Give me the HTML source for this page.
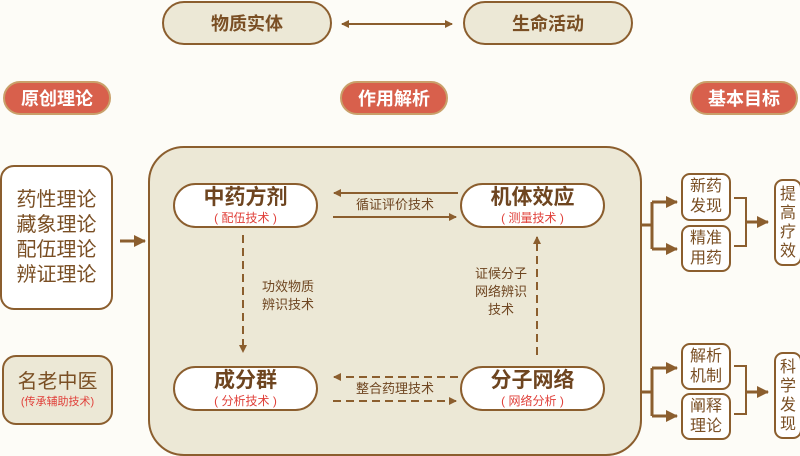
<!DOCTYPE html>
<html><head><meta charset="utf-8"><style>
*{margin:0;padding:0;box-sizing:border-box}
body{width:800px;height:453px;background:#fdfcf7;position:relative;overflow:hidden;font-family:"Liberation Sans","Noto Sans CJK SC",sans-serif;color:#7a4f24}
.a{position:absolute;display:flex;flex-direction:column;align-items:center;justify-content:center;text-align:center}
.bg{background:#ece8d6;border:2px solid #8b5e2e}
.w{background:#fff;border:2px solid #8b5e2e}
.red{background:#d8604c;border:2px solid #c9a06a;color:#fff;font-weight:bold;font-size:18px;border-radius:18px}
.t{font-weight:bold;font-size:21px;line-height:24px;color:#6e4520}
.s{font-size:12px;color:#e0403a;line-height:16px}
.lbl{position:absolute;font-size:13px;line-height:18px;color:#6e4520;text-align:center}
</style></head><body>
<div class="a bg" style="left:162px;top:1px;width:170px;height:44px;border-radius:22px;font-size:18px;font-weight:bold">物质实体</div>
<div class="a bg" style="left:463px;top:1px;width:170px;height:44px;border-radius:22px;font-size:18px;font-weight:bold">生命活动</div>
<div class="a red" style="left:3px;top:81px;width:108px;height:34px">原创理论</div>
<div class="a red" style="left:340px;top:81px;width:108px;height:34px">作用解析</div>
<div class="a red" style="left:690px;top:81px;width:108px;height:34px">基本目标</div>
<div class="a w" style="left:0;top:165px;width:113px;height:145px;border-radius:14px;font-size:20px;line-height:25px">药性理论<br>藏象理论<br>配伍理论<br>辨证理论</div>
<div class="a bg" style="left:2px;top:355px;width:111px;height:70px;border-radius:14px"><div style="font-size:20px;line-height:24px">名老中医</div><div class="s" style="font-size:11px">(传承辅助技术)</div></div>
<div class="a bg" style="left:148px;top:146px;width:494px;height:310px;border-radius:36px"></div>
<div class="a w" style="left:173px;top:183px;width:145px;height:45px;border-radius:23px"><div class="t">中药方剂</div><div class="s">( 配伍技术 )</div></div>
<div class="a w" style="left:460px;top:183px;width:145px;height:45px;border-radius:23px"><div class="t">机体效应</div><div class="s">( 测量技术 )</div></div>
<div class="a w" style="left:173px;top:366px;width:145px;height:45px;border-radius:23px"><div class="t">成分群</div><div class="s">( 分析技术 )</div></div>
<div class="a w" style="left:460px;top:366px;width:145px;height:45px;border-radius:23px"><div class="t">分子网络</div><div class="s">( 网络分析 )</div></div>
<div class="lbl" style="left:340px;top:196px;width:110px">循证评价技术</div>
<div class="lbl" style="left:340px;top:380px;width:110px">整合药理技术</div>
<div class="lbl" style="left:254px;top:278px;width:68px">功效物质<br>辨识技术</div>
<div class="lbl" style="left:468px;top:265px;width:66px">证候分子<br>网络辨识<br>技术</div>
<div class="a w" style="left:681px;top:173px;width:50px;height:48px;border-radius:9px;font-size:16px;line-height:20px">新药<br>发现</div>
<div class="a w" style="left:681px;top:225px;width:50px;height:47px;border-radius:9px;font-size:16px;line-height:20px">精准<br>用药</div>
<div class="a w" style="left:681px;top:343px;width:50px;height:47px;border-radius:9px;font-size:16px;line-height:20px">解析<br>机制</div>
<div class="a w" style="left:681px;top:393px;width:50px;height:47px;border-radius:9px;font-size:16px;line-height:20px">阐释<br>理论</div>
<div class="a w" style="left:774px;top:179px;width:28px;height:87px;border-radius:9px;font-size:16px;line-height:19px">提<br>高<br>疗<br>效</div>
<div class="a w" style="left:774px;top:352px;width:28px;height:87px;border-radius:9px;font-size:16px;line-height:19px">科<br>学<br>发<br>现</div>
<svg width="800" height="453" style="position:absolute;left:0;top:0" fill="none" stroke="#8b5e2e" stroke-width="2">
<defs><marker id="m" markerWidth="8" markerHeight="8" refX="7" refY="4" orient="auto" markerUnits="userSpaceOnUse"><path d="M0,0L8,4L0,8z" fill="#8b5e2e" stroke="none"/></marker>
<marker id="M" markerWidth="12" markerHeight="12" refX="11" refY="6" orient="auto" markerUnits="userSpaceOnUse"><path d="M0,0L12,6L0,12z" fill="#8b5e2e" stroke="none"/></marker></defs>
<path d="M345,24H452" marker-end="url(#m)"/><path d="M452,24H342" marker-end="url(#m)"/>
<path d="M120,241H145" stroke-width="3" marker-end="url(#M)"/>
<path d="M458,193H334" marker-end="url(#m)"/>
<path d="M333,217H456" marker-end="url(#m)"/>
<path d="M458,377H334" stroke-dasharray="8,5" marker-end="url(#m)"/>
<path d="M333,401H456" stroke-dasharray="8,5" marker-end="url(#m)"/>
<path d="M243,235V352" stroke-dasharray="8,5" marker-end="url(#m)"/>
<path d="M537,355V237" stroke-dasharray="8,5" marker-end="url(#m)"/>
<g stroke-width="3">
<path d="M642,225H652M652,202V249"/><path d="M652,202H677" marker-end="url(#M)"/><path d="M652,249H677" marker-end="url(#M)"/>
<path d="M734,198H746V246H734" stroke-width="2"/><path d="M746,222H768" marker-end="url(#M)"/>
<path d="M642,392H652M652,368V416"/><path d="M652,368H677" marker-end="url(#M)"/><path d="M652,416H677" marker-end="url(#M)"/>
<path d="M734,366H746V414H734" stroke-width="2"/><path d="M746,392H768" marker-end="url(#M)"/>
</g></svg>
</body></html>
